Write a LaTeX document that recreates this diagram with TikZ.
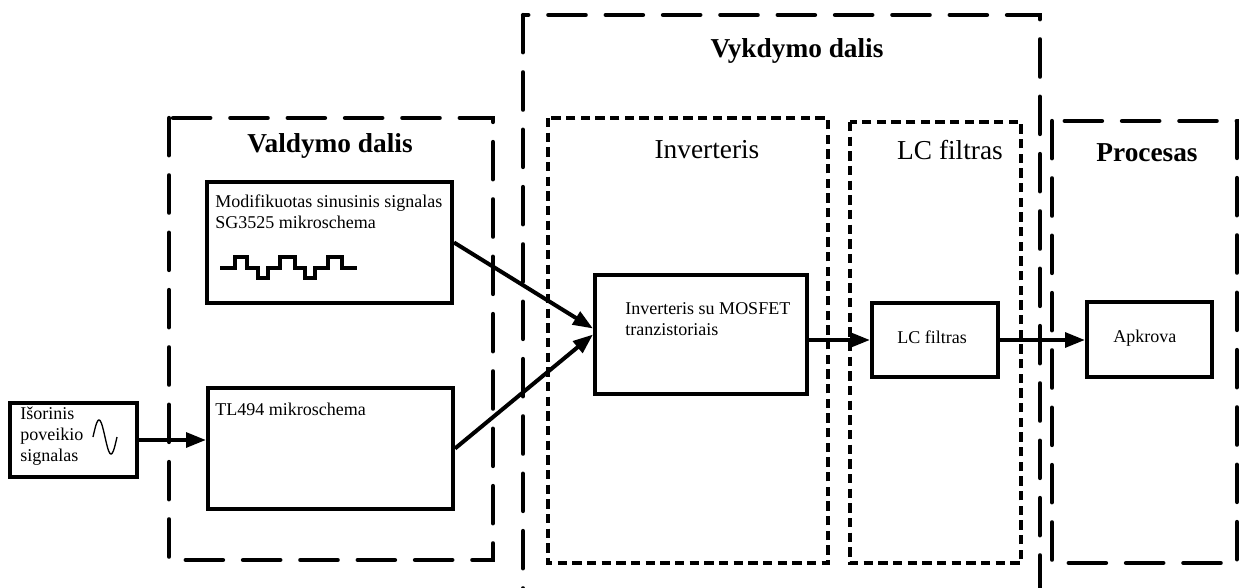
\documentclass[tikz,border=0pt]{standalone}
\usepackage{fontspec}
\setmainfont{Liberation Serif}
\usetikzlibrary{arrows.meta}

\begin{document}
\begin{tikzpicture}[x=0.75pt,y=-0.75pt,
  groupframe/.style={line width=3.2pt, dash pattern=on 28pt off 15pt, line cap=round},
  subframe/.style={line width=2.8pt, dash pattern=on 7pt off 4pt},
  block/.style={draw, line width=3pt, rectangle, inner sep=0pt},
  link/.style={line width=3pt, -{Triangle[length=15pt,width=11pt]}},
  grouptitle/.style={font=\fontsize{20.5}{24}\selectfont\bfseries, inner sep=0pt, anchor=base},
  subtitle/.style={font=\fontsize{20.5}{24}\selectfont, inner sep=0pt, anchor=base},
  txt/.style={font=\fontsize{13.5}{16}\selectfont, inner sep=0pt, anchor=base west}
]
\useasboundingbox (0,0) rectangle (1240,588);

% group frames
\draw[groupframe] (169,118) rectangle (493,560);
\draw[groupframe] (523,15) rectangle (1040,590);
\draw[subframe] (548,118) rectangle (828,563);
\draw[subframe] (850,122) rectangle (1021,563);
\draw[groupframe] (1052,121) rectangle (1237,563);

% frame titles
\node[grouptitle] (tval) at (330,153) {Valdymo dalis};
\node[grouptitle] (tvyk) at (797,58) {Vykdymo dalis};
\node[subtitle] (tinv) at (707,159) {Inverteris};
\node[subtitle] (tlcf) at (950,160) {LC filtras};
\node[grouptitle] (tpro) at (1147,162) {Procesas};

% blocks
\node[block, minimum width=95.25pt, minimum height=55.5pt] (ext) at (73.5,440) {};
\node[block, minimum width=183.75pt, minimum height=90.75pt] (sg) at (329.5,242.5) {};
\node[block, minimum width=183.75pt, minimum height=90.75pt] (tl) at (330.5,448.5) {};
\node[block, minimum width=159pt, minimum height=89.25pt] (inv) at (701,334.5) {};
\node[block, minimum width=94.5pt, minimum height=55.5pt] (lc) at (935,340) {};
\node[block, minimum width=93.75pt, minimum height=56.25pt] (load) at (1149.5,339.5) {};

% block texts
\node[txt] (ext1) at (20,419) {Išorinis};
\node[txt] (ext2) at (20,440) {poveikio};
\node[txt] (ext3) at (20,461) {signalas};
\node[txt] (sg1) at (215,208) {Modifikuotas sinusinis signalas};
\node[txt] (sg2) at (215,229) {SG3525 mikroschema};
\node[txt] (tl1) at (215,415) {TL494 mikroschema};
\node[txt] (inv1) at (625,315) {Inverteris su MOSFET};
\node[txt] (inv2) at (625,335) {tranzistoriais};
\node[txt, anchor=base] (lc1) at (932,344) {LC filtras};
\node[txt] (load1) at (1113,342) {Apkrova};

% sine symbol
\draw[line width=1pt, smooth, domain=0:360, samples=40]
  plot ({93+\x/360*24},{437-17*sin(\x)});

% modified sine waveform
\draw[line width=3pt, line join=miter]
  (220,268) -- (235,268) -- (235,257) -- (247,257) -- (247,268) -- (258,268)
  -- (258,278) -- (268,278) -- (268,268) -- (280,268) -- (280,257) -- (295,257)
  -- (295,268) -- (305,268) -- (305,278) -- (315,278) -- (315,268) -- (328,268)
  -- (328,257) -- (342,257) -- (342,268) -- (357,268);

% connections
\draw[link] (ext.east) -- (ext.east -| tl.west);
\draw[link] (sg.east) -- ([yshift=4.5pt]inv.west);
\draw[link] (tl.east) -- (inv.west);
\draw[link] (lc.west -| inv.east) -- (lc.west);
\draw[link] (lc.east) -- (lc.east -| load.west);
\end{tikzpicture}
\end{document}
